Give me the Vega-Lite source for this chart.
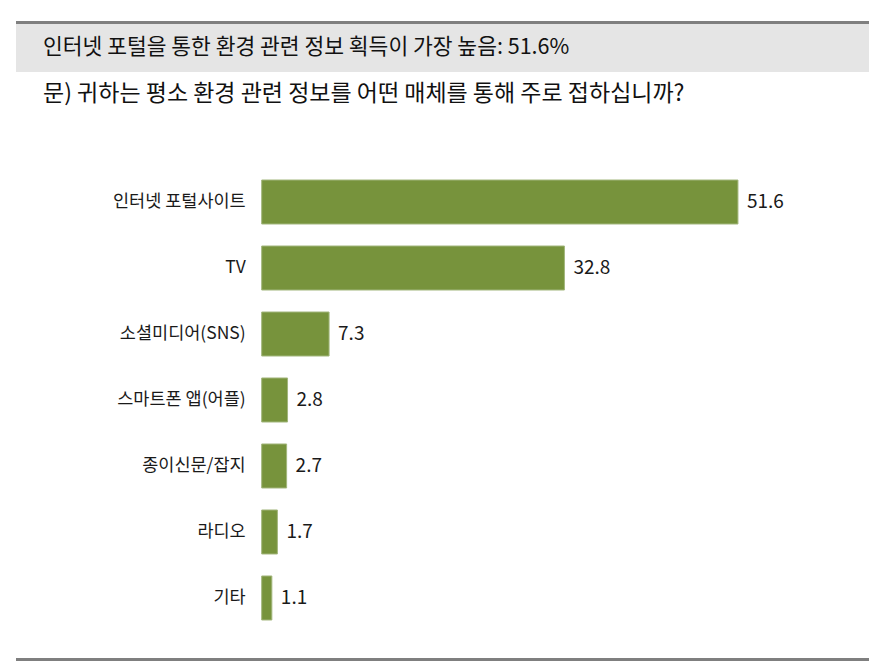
{
  "$schema": "https://vega.github.io/schema/vega-lite/v6.json",
  "padding": {"left": 16, "top": 21, "right": 13, "bottom": 11},
  "spacing": 0,
  "bounds": "flush",
  "config": {"view": {"stroke": null}, "text": {"font": "Noto Sans CJK KR"}},
  "vconcat": [
    {
      "width": 853, "height": 3,
      "view": {"fill": "#7f7f7f", "stroke": null},
      "data": {"values": [{"t": ""}]},
      "mark": {"type": "text", "fontSize": 0},
      "encoding": {"text": {"field": "t"}}
    },
    {
      "width": 853, "height": 48,
      "view": {"fill": "#e5e5e5", "stroke": null},
      "data": {"values": [{"t": "인터넷 포털을 통한 환경 관련 정보 획득이 가장 높음: 51.6%"}]},
      "mark": {"type": "text", "align": "left", "baseline": "middle", "x": 27, "y": 24, "fontSize": 21.5, "color": "#111111"},
      "encoding": {"text": {"field": "t"}}
    },
    {
      "width": 853, "height": 97,
      "data": {"values": [{"t": "문) 귀하는 평소 환경 관련 정보를 어떤 매체를 통해 주로 접하십니까?"}]},
      "mark": {"type": "text", "align": "left", "baseline": "middle", "x": 27, "y": 22, "fontSize": 23, "color": "#111111"},
      "encoding": {"text": {"field": "t"}}
    },
    {
      "width": 853, "height": 462,
      "data": {"values": [
        {"media": "인터넷 포털사이트", "pct": 51.6},
        {"media": "TV", "pct": 32.8},
        {"media": "소셜미디어(SNS)", "pct": 7.3},
        {"media": "스마트폰 앱(어플)", "pct": 2.8},
        {"media": "종이신문/잡지", "pct": 2.7},
        {"media": "라디오", "pct": 1.7},
        {"media": "기타", "pct": 1.1}
      ]},
      "encoding": {
        "y": {"field": "media", "type": "nominal", "sort": null, "axis": null,
              "scale": {"paddingInner": 0.3333, "paddingOuter": 0.1667}}
      },
      "layer": [
        {
          "mark": {"type": "bar", "color": "#77933c", "stroke": "#a2b67c", "strokeWidth": 1},
          "encoding": {
            "x": {"field": "pct", "type": "quantitative", "axis": null,
                  "scale": {"domain": [-26.62, 65.8], "nice": false, "zero": false}},
            "x2": {"datum": 0}
          }
        },
        {
          "mark": {"type": "text", "align": "right", "baseline": "middle", "dx": -16, "fontSize": 17.5, "color": "#1a1a1a"},
          "encoding": {
            "x": {"datum": 0},
            "text": {"field": "media"}
          }
        },
        {
          "mark": {"type": "text", "align": "left", "baseline": "middle", "dx": 9, "fontSize": 19, "color": "#1a1a1a"},
          "encoding": {
            "x": {"field": "pct", "type": "quantitative"},
            "text": {"field": "pct", "type": "quantitative", "format": ".1f"}
          }
        }
      ]
    },
    {
      "width": 853, "height": 27,
      "data": {"values": [{"t": ""}]},
      "mark": {"type": "text", "fontSize": 0},
      "encoding": {"text": {"field": "t"}}
    },
    {
      "width": 853, "height": 3,
      "view": {"fill": "#7f7f7f", "stroke": null},
      "data": {"values": [{"t": ""}]},
      "mark": {"type": "text", "fontSize": 0},
      "encoding": {"text": {"field": "t"}}
    }
  ]
}
